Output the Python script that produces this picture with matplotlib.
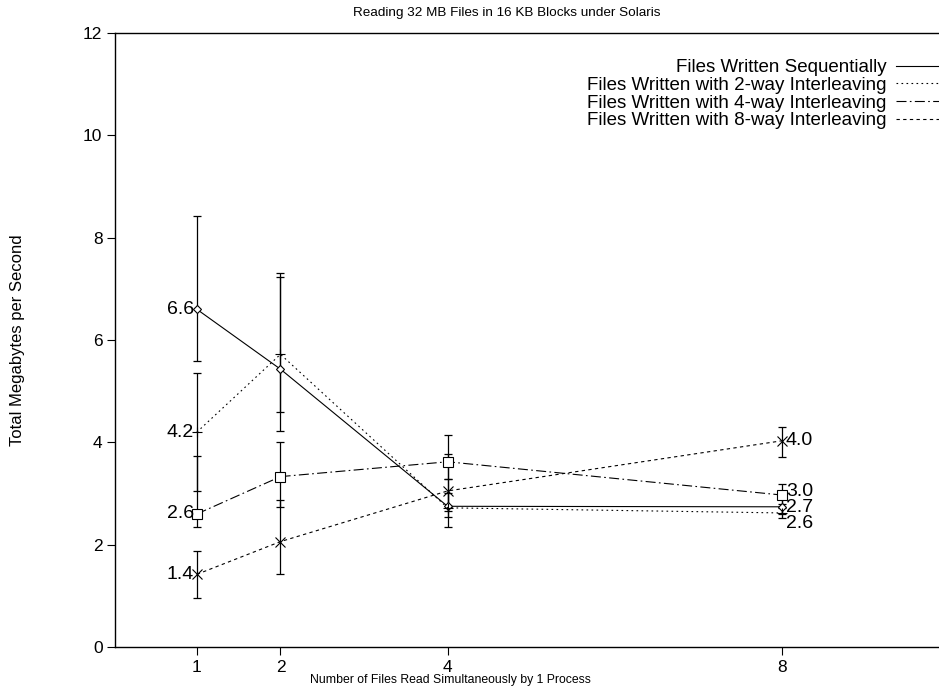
import matplotlib
matplotlib.use("Agg")
import matplotlib.pyplot as plt
from matplotlib.lines import Line2D
import numpy as np

plt.rcParams['font.family'] = ['Liberation Sans', 'DejaVu Sans']

# ---- data ----
files = [1, 2, 4, 8]
xticks = [1, 2, 4, 8]
yticks = [0, 2, 4, 6, 8, 10, 12]

seq_mean = [6.6, 5.43, 2.75, 2.74]
seq_low = [5.58, 4.60, 2.54, 2.60]
seq_high = [8.42, 7.30, 3.01, 2.90]

two_mean = [4.2, 5.72, 2.72, 2.62]
two_low = [3.05, 4.23, 2.35, 2.52]
two_high = [5.36, 7.23, 3.28, 2.72]

four_mean = [2.6, 3.33, 3.62, 2.97]
four_low = [2.34, 2.74, 3.28, 2.80]
four_high = [3.73, 4.00, 4.15, 3.18]

eight_mean = [1.42, 2.06, 3.05, 4.03]
eight_low = [0.96, 1.43, 2.66, 3.72]
eight_high = [1.87, 2.87, 3.78, 4.30]

labels = ["Files Written Sequentially",
          "Files Written with 2-way Interleaving",
          "Files Written with 4-way Interleaving",
          "Files Written with 8-way Interleaving"]

title = "Reading 32 MB Files in 16 KB Blocks under Solaris"
xlabel = "Number of Files Read Simultaneously by 1 Process"
ylabel = "Total Megabytes per Second"

# ---- styling ----
W, H = 939, 694
fig = plt.figure(figsize=(W / 100, H / 100), dpi=100)
ax = fig.add_axes([115 / W, 1 - 647 / H, 1 - 115 / W, (647 - 33) / H])

series = [
    (seq_mean, seq_low, seq_high, '-', 'D', 4.5, 'white'),
    (two_mean, two_low, two_high, (0, (1.5, 3)), '+', 7, 'none'),
    (four_mean, four_low, four_high, (0, (9, 3, 1.5, 3)), 's', 7, 'white'),
    (eight_mean, eight_low, eight_high, (0, (3, 3)), 'x', 6.5, 'none'),
]

handles = []
for (m, lo, hi, ls, mk, ms, mfc), lab in zip(series, labels):
    m = np.array(m); lo = np.array(lo); hi = np.array(hi)
    ax.errorbar(files, m, yerr=[m - lo, hi - m], fmt='none', ecolor='black',
                elinewidth=0.9, capsize=3.2, capthick=0.9, zorder=2)
    ax.plot(files, m, color='black', linestyle=ls, linewidth=0.8,
            marker=mk, markersize=ms, markerfacecolor=mfc,
            markeredgecolor='black', markeredgewidth=0.8, zorder=3)
    handles.append(Line2D([], [], color='black', linestyle=ls, linewidth=0.8))

# value labels
right_offsets = [-1, -11, 4, 0]
for (m, *_), roff in zip(series, right_offsets):
    ax.annotate(f"{m[0]:.1f}", (files[0], m[0]), xytext=(-3, 0),
                textcoords='offset pixels', ha='right', va='center', fontsize=14)
    ax.annotate(f"{m[-1]:.1f}", (files[-1], m[-1]), xytext=(4, roff),
                textcoords='offset pixels', ha='left', va='center', fontsize=14)

ax.set_xlim(0.02, 9.88)
ax.set_ylim(0, 12)
ax.set_xticks(xticks)
ax.set_xticklabels([str(t) for t in xticks])
ax.set_yticks(yticks)
ax.set_yticklabels([str(t) for t in yticks])
ax.tick_params(axis='both', direction='out', length=6, width=0.8,
               labelsize=12.5, color='black', pad=3)
ax.spines['right'].set_visible(False)
for s in ['left', 'bottom', 'top']:
    ax.spines[s].set_linewidth(1.0)

leg = ax.legend(handles, labels, loc='upper right',
                bbox_to_anchor=(1.0, 1 - 59 / H), bbox_transform=fig.transFigure,
                markerfirst=False, frameon=False, fontsize=13.5,
                labelspacing=0.03, handlelength=2.3, handletextpad=0.5,
                borderaxespad=0, borderpad=0)

fig.text(507 / W, 1 - 13 / H, title, ha='center', va='center', fontsize=9.7)
fig.text(450 / W, 1 - 680 / H, xlabel, ha='center', va='center', fontsize=8.8)
fig.text(18 / W, 1 - 340 / H, ylabel, ha='center', va='center',
         rotation=90, fontsize=12)

fig.savefig("out.png", dpi=100)
